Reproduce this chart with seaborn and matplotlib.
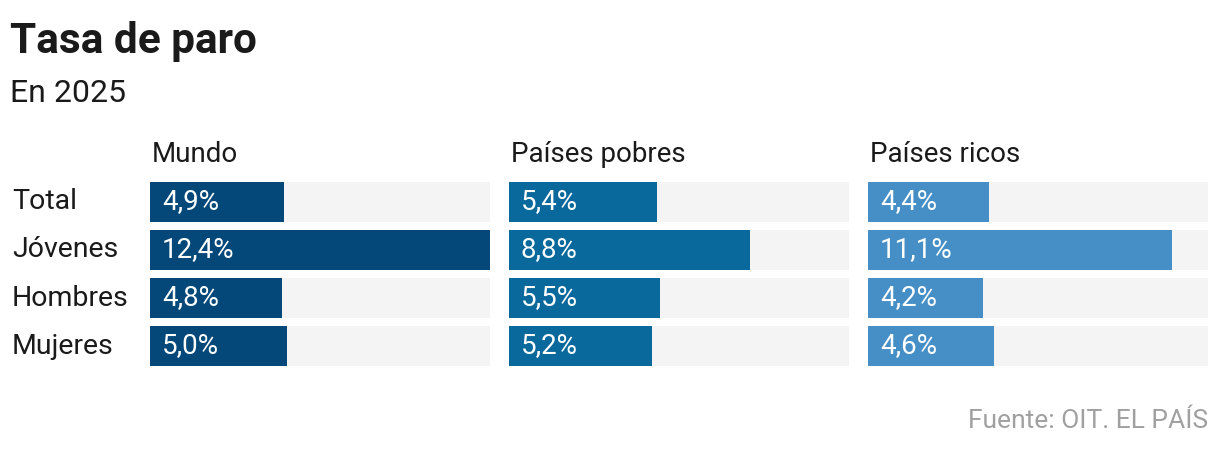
import matplotlib
matplotlib.use("Agg")
import matplotlib.pyplot as plt
import matplotlib.transforms as mtransforms
import seaborn as sns

# Datos
categorias = ["Total", "Jóvenes", "Hombres", "Mujeres"]
mundo = [4.9, 12.4, 4.8, 5.0]
pobres = [5.4, 8.8, 5.5, 5.2]
ricos = [4.4, 11.1, 4.2, 4.6]
paneles = ["Mundo", "Países pobres", "Países ricos"]

sns.set_style("white")
plt.rcParams['font.family'] = ['Roboto', 'DejaVu Sans']

colores = ["#034878", "#0a699c", "#468fc6"]
fondo = "#f4f4f4"
xmax = max(mundo + pobres + ricos)

fig = plt.figure(figsize=(12.2, 4.5), dpi=100)
W, H = 1220, 450
lefts = [150, 509, 868]
ancho = 340
top, bottom = 178, 370

for i, (nombre, vals) in enumerate(zip(paneles, [mundo, pobres, ricos])):
    ax = fig.add_axes([lefts[i] / W, 1 - bottom / H, ancho / W, (bottom - top) / H])
    # barra de fondo gris + barra de valor
    sns.barplot(x=[xmax] * len(categorias), y=categorias, orient='h', color=fondo,
                width=40 / 48, saturation=1, linewidth=0, ax=ax)
    sns.barplot(x=vals, y=categorias, orient='h', color=colores[i],
                width=40 / 48, saturation=1, linewidth=0, ax=ax)
    ax.set_xlim(0, xmax)
    ax.set_ylim(len(categorias) - 0.5, -0.5)
    ax.set_xlabel('')
    ax.set_ylabel('')
    ax.set_xticks([])
    ax.set_yticks([])
    sns.despine(ax=ax, left=True, bottom=True)
    for j, v in enumerate(vals):
        ax.annotate(f"{v:.1f}%".replace('.', ','), xy=(0, j), xytext=(8.6, 0.5),
                    textcoords='offset points', va='center', ha='left',
                    color='white', fontsize=20)
    ax.text(0.006, 1 + 16 / (bottom - top), nombre, transform=ax.transAxes,
            va='baseline', ha='left', fontsize=20, color='#1a1a1a')
    if i == 0:
        trans = mtransforms.blended_transform_factory(fig.transFigure, ax.transData)
        for j, c in enumerate(categorias):
            ax.text(12 / W, j, c, transform=trans, va='center', ha='left',
                    fontsize=20.5, color='#1a1a1a')

fig.text(10 / W, 1 - 53 / H, "Tasa de paro", fontsize=30.5, fontweight='bold',
         color='#1a1a1a', va='baseline')
fig.text(10 / W, 1 - 102 / H, "En 2025", fontsize=23, color='#1a1a1a', va='baseline')
fig.text(1208 / W, 1 - 428 / H, "Fuente: OIT. EL PAÍS", fontsize=19, color='#a0a0a0',
         ha='right', va='baseline')

plt.savefig('out.png', dpi=100)
